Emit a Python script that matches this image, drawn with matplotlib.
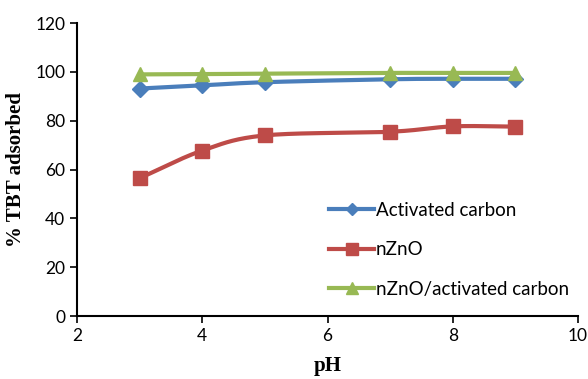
import matplotlib
matplotlib.use('Agg')
import matplotlib.pyplot as plt
import numpy as np

ph = [3, 4, 5, 7, 8, 9]
activated_carbon = [93.2, 94.5, 95.8, 97.0, 97.2, 97.2]
nzno = [56.5, 67.8, 74.0, 75.5, 77.7, 77.6]
nzno_ac = [99.0, 99.1, 99.3, 99.6, 99.6, 99.6]

labels = ['Activated carbon', 'nZnO', 'nZnO/activated carbon']
colors = ['#4a7ebb', '#be4b48', '#98b954']
markers = ['D', 's', '^']
sizes = [8, 10, 10]


def smooth(x, y, n=30):
    # catmull-rom style curve through the points, like excel's smoothed line
    x = np.asarray(x, float)
    y = np.asarray(y, float)
    px = np.concatenate([[2 * x[0] - x[1]], x, [2 * x[-1] - x[-2]]])
    py = np.concatenate([[2 * y[0] - y[1]], y, [2 * y[-1] - y[-2]]])
    xs, ys = [], []
    t = np.linspace(0, 1, n)
    for i in range(1, len(px) - 2):
        for p, out in ((px, xs), (py, ys)):
            p0, p1, p2, p3 = p[i - 1], p[i], p[i + 1], p[i + 2]
            out.extend(0.5 * ((2 * p1) + (-p0 + p2) * t
                              + (2 * p0 - 5 * p1 + 4 * p2 - p3) * t ** 2
                              + (-p0 + 3 * p1 - 3 * p2 + p3) * t ** 3))
    return np.array(xs), np.array(ys)


fig = plt.figure(figsize=(5.88, 3.79), dpi=100)
ax = fig.add_axes([0.131, 0.166, 0.852, 0.773])

for yv, lab, c, m, s in zip([activated_carbon, nzno, nzno_ac], labels, colors, markers, sizes):
    sx, sy = smooth(ph, yv)
    ax.plot(sx, sy, color=c, lw=3, solid_capstyle='round')
    ax.plot(ph, yv, ls='none', marker=m, ms=s, color=c)
    ax.plot([], [], color=c, lw=3, marker=m, ms=s, label=lab)

ax.set_xlim(2, 10)
ax.set_ylim(0, 120)
ax.set_xticks([2, 4, 6, 8, 10])
ax.set_yticks(range(0, 121, 20))
ax.spines['top'].set_visible(False)
ax.spines['right'].set_visible(False)
ax.spines['left'].set_linewidth(1.5)
ax.spines['bottom'].set_linewidth(1.5)
ax.tick_params(direction='out', length=5, width=1.2, labelsize=12.5)
for t in ax.get_xticklabels() + ax.get_yticklabels():
    t.set_family('Lato')

ax.set_xlabel('pH', family='Liberation Serif', fontweight='bold', fontsize=15, labelpad=9)
ax.set_ylabel('% TBT adsorbed', family='Liberation Serif', fontweight='bold', fontsize=15, labelpad=7)

leg = ax.legend(loc='lower right', bbox_to_anchor=(1.016, 0.005), frameon=False,
                prop={'family': 'Lato', 'size': 13.5}, handlelength=2.4,
                handletextpad=0.1, labelspacing=1.2, markerscale=0.8)

fig.savefig('out.png', dpi=100)
